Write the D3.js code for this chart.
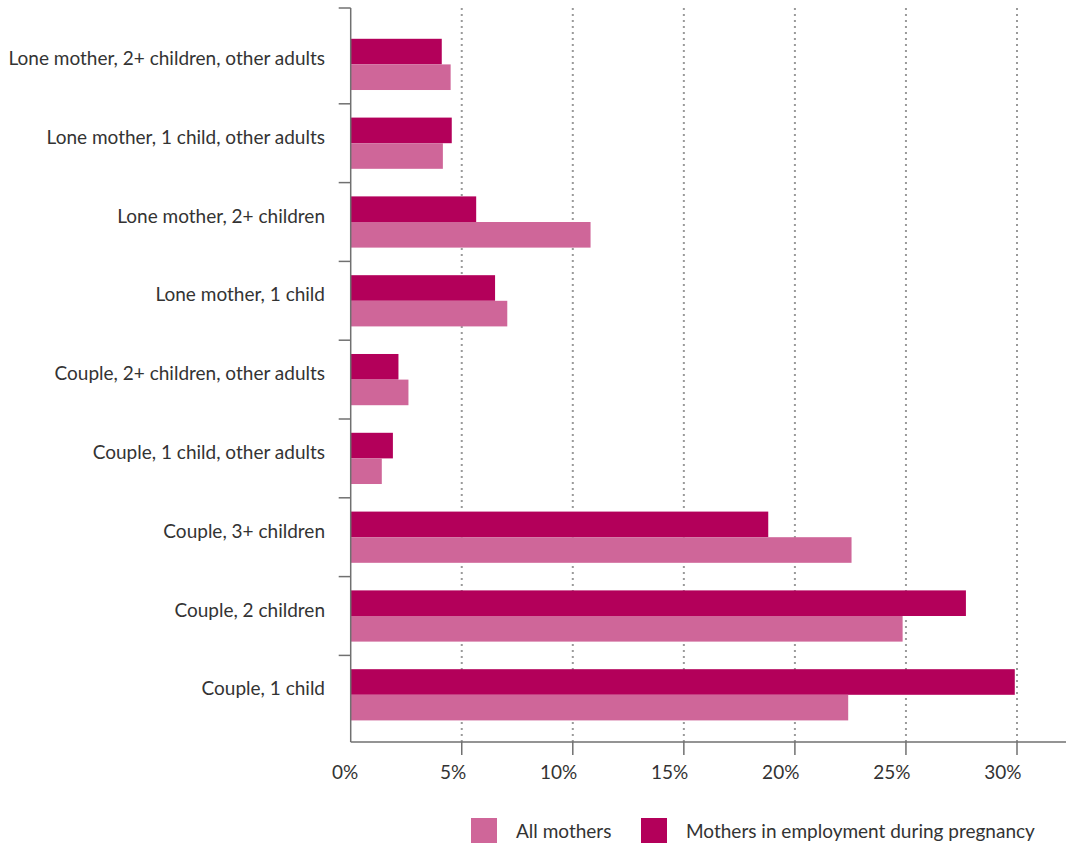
<!DOCTYPE html>
<html>
<head>
<meta charset="utf-8">
<script src="https://cdn.jsdelivr.net/npm/d3@7"></script>
<style>
  html, body { margin: 0; padding: 0; background: #fff; }
  svg text { font-family: Lato, "Open Sans", sans-serif; font-weight: 400; fill: #333; }
</style>
</head>
<body>
<svg id="chart" width="1066" height="843"></svg>
<script>
// Household types, top to bottom
const categories = [
  "Lone mother, 2+ children, other adults",
  "Lone mother, 1 child, other adults",
  "Lone mother, 2+ children",
  "Lone mother, 1 child",
  "Couple, 2+ children, other adults",
  "Couple, 1 child, other adults",
  "Couple, 3+ children",
  "Couple, 2 children",
  "Couple, 1 child"
];
// Share of mothers (%) in each household type
const employedDuringPregnancy = [4.1, 4.55, 5.65, 6.5, 2.15, 1.9, 18.8, 27.7, 29.9];
const allMothers = [4.5, 4.15, 10.8, 7.05, 2.6, 1.4, 22.55, 24.85, 22.4];
const xTicks = [0, 5, 10, 15, 20, 25, 30];
const seriesNames = ["All mothers", "Mothers in employment during pregnancy"];
const seriesColors = ["#cf6699", "#b3005a"];

const svg = d3.select("#chart");
const axisColor = "#707070";

const x = d3.scaleLinear().domain([0, 30]).range([350.7, 1017]);
const y = d3.scaleBand().domain(categories).range([25, 734.2]).paddingInner(0).paddingOuter(0);
const axisTop = 8, axisBottom = 742;
const barH = y.bandwidth() * 0.325;

// Dotted vertical gridlines
svg.append("g").selectAll("line")
  .data(xTicks.filter(d => d > 0))
  .join("line")
  .attr("x1", d => x(d)).attr("x2", d => x(d))
  .attr("y1", axisTop).attr("y2", axisBottom)
  .attr("stroke", "#9a9a9a").attr("stroke-width", 2)
  .attr("stroke-dasharray", "2,4");

// Bars
const rows = categories.map((c, i) => ({ c, emp: employedDuringPregnancy[i], all: allMothers[i] }));
const bars = svg.append("g");
bars.selectAll("rect.emp").data(rows).join("rect")
  .attr("class", "emp")
  .attr("x", x(0))
  .attr("y", d => y(d.c) + y.bandwidth() / 2 - barH)
  .attr("width", d => x(d.emp) - x(0))
  .attr("height", barH)
  .attr("fill", seriesColors[1]);
bars.selectAll("rect.all").data(rows).join("rect")
  .attr("class", "all")
  .attr("x", x(0))
  .attr("y", d => y(d.c) + y.bandwidth() / 2)
  .attr("width", d => x(d.all) - x(0))
  .attr("height", barH)
  .attr("fill", seriesColors[0]);

// Y axis: line, boundary ticks, labels
const yAxis = svg.append("g");
yAxis.append("line")
  .attr("x1", x(0)).attr("x2", x(0))
  .attr("y1", axisTop).attr("y2", axisBottom)
  .attr("stroke", axisColor).attr("stroke-width", 1.5);
const boundaries = [axisTop].concat(categories.slice(1).map(c => y(c)));
yAxis.selectAll("line.tick").data(boundaries).join("line")
  .attr("class", "tick")
  .attr("x1", x(0) - 12).attr("x2", x(0))
  .attr("y1", d => d).attr("y2", d => d)
  .attr("stroke", axisColor).attr("stroke-width", 1.5);
yAxis.selectAll("text").data(categories).join("text")
  .attr("x", 325)
  .attr("y", d => y(d) + y.bandwidth() / 2 + 0.5)
  .attr("text-anchor", "end")
  .attr("font-size", 19)
  .text(d => d);

// X axis
const xAxis = svg.append("g");
xAxis.append("line")
  .attr("x1", x(0)).attr("x2", 1066)
  .attr("y1", axisBottom).attr("y2", axisBottom)
  .attr("stroke", axisColor).attr("stroke-width", 1.5);
xAxis.selectAll("line.tick").data(xTicks.filter(d => d > 0)).join("line")
  .attr("class", "tick")
  .attr("x1", d => x(d)).attr("x2", d => x(d))
  .attr("y1", axisBottom).attr("y2", axisBottom + 13)
  .attr("stroke", axisColor).attr("stroke-width", 1.5);
xAxis.selectAll("text").data(xTicks).join("text")
  .attr("x", d => x(d) + (d === 0 ? 7.5 : 4.5))
  .attr("y", 779)
  .attr("text-anchor", "end")
  .attr("font-size", 19)
  .text(d => d + "%");

// Legend
const legendX = [471, 641];
const legend = svg.append("g");
seriesNames.forEach((name, i) => {
  legend.append("rect")
    .attr("x", legendX[i]).attr("y", 818)
    .attr("width", 26).attr("height", 26)
    .attr("fill", seriesColors[i]);
  legend.append("text")
    .attr("x", legendX[i] + 45).attr("y", 838)
    .attr("font-size", 19)
    .text(name);
});
</script>
</body>
</html>
